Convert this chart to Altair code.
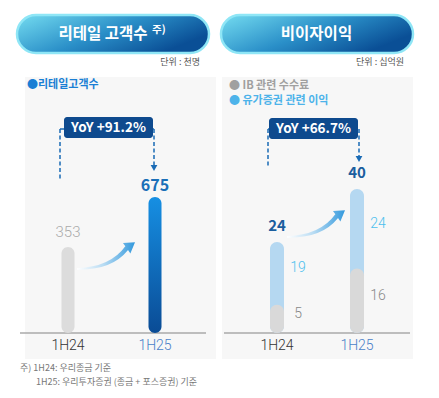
import altair as alt
import pandas as pd

# ---- data ----
periods = ["1H24", "1H25"]
retail_customers = [353, 675]          # 천명
ib_fees = [5, 16]                      # 십억원
securities_income = [19, 24]           # 십억원
noninterest_total = [24, 40]           # 십억원
yoy_retail = "YoY +91.2%"
yoy_nonint = "YoY +66.7%"

FONT = "Noto Sans CJK KR"
NUM = "Roboto"

df_left = pd.DataFrame({"period": periods, "value": retail_customers})
df_right = pd.DataFrame({"period": periods, "ib": ib_fees,
                         "sec": securities_income, "total": noninterest_total})
one = alt.Data(values=[{"k": 1}])

pill_grad = alt.Gradient(gradient="linear",
                         stops=[alt.GradientStop(color="#74dcf0", offset=0),
                                alt.GradientStop(color="#2a8fc8", offset=0.55),
                                alt.GradientStop(color="#0a4f96", offset=1)],
                         x1=0, y1=0, x2=1, y2=0.5)
arrow_grad = alt.Gradient(gradient="linear",
                          stops=[alt.GradientStop(color="#ffffff", offset=0),
                                 alt.GradientStop(color="#b9dcf3", offset=0.45),
                                 alt.GradientStop(color="#3399dd", offset=1)],
                          x1=0, y1=0, x2=1, y2=0)
bar_grad = alt.Gradient(gradient="linear",
                        stops=[alt.GradientStop(color="#168fe3", offset=0),
                               alt.GradientStop(color="#0a4b95", offset=1)],
                        x1=0, y1=0, x2=0, y2=1)

ARROW = ("M -1 0.47 Q 0.2 0.5 0.759 -0.204 L 0.84 -0.09 L 1 -0.47 "
         "L 0.585 -0.45 L 0.667 -0.336 Q 0.15 0.38 -1 0.42 Z")

DASH = "#1a6bb5"


def background(bg_x, pill_x, title, title_x, unit, unit_x, box, dash_l, dash_l_end,
               dash_r, dash_r_end, base_x):
    b = alt.Chart(one)
    dash = dict(strokeDash=[4, 2.5], strokeWidth=1.5, color=DASH)
    return [
        b.mark_rect(color="#f7f7f7").encode(
            x=alt.value(bg_x[0]), x2=alt.value(bg_x[1]), y=alt.value(69), y2=alt.value(351)),
        b.mark_rect(cornerRadius=19, fill=pill_grad, stroke="#8fe6f6", strokeWidth=2.5).encode(
            x=alt.value(pill_x[0]), x2=alt.value(pill_x[1]), y=alt.value(7), y2=alt.value(45)),
        b.mark_text(text=title, font=FONT, fontSize=15.5, fontWeight="bold",
                    color="white", align="center", baseline="middle").encode(
            x=alt.value(title_x), y=alt.value(26)),
        b.mark_text(text=unit, font=FONT, fontSize=9, color="#555555",
                    align="right", baseline="middle").encode(
            x=alt.value(unit_x), y=alt.value(54)),
        b.mark_rule(**dash).encode(x=alt.value(dash_l), x2=alt.value(dash_r), y=alt.value(121)),
        b.mark_rule(**dash).encode(x=alt.value(dash_l), y=alt.value(121), y2=alt.value(dash_l_end)),
        b.mark_rule(**dash).encode(x=alt.value(dash_r), y=alt.value(121), y2=alt.value(dash_r_end)),
        b.mark_point(shape="triangle-down", filled=True, size=45, opacity=1, color=DASH).encode(
            x=alt.value(dash_r), y=alt.value(dash_r_end + 3)),
        b.mark_rect(color="#0e4a8e", cornerRadius=3).encode(
            x=alt.value(box[0]), x2=alt.value(box[1]), y=alt.value(box[2]), y2=alt.value(box[3])),
        b.mark_rule(color="#aaaaaa", strokeWidth=1.5).encode(
            x=alt.value(base_x[0]), x2=alt.value(base_x[1]), y=alt.value(325)),
    ]


def curved_arrow(cy):
    return alt.Chart(one).mark_point(shape=ARROW, size=3364, filled=True, opacity=1,
                                     fill=arrow_grad, strokeWidth=0).encode(
        x=alt.value(98), y=alt.value(cy))


# ---------------- left panel ----------------
left_bg = background((17, 208), (9, 201), "리테일 고객수", 95, "단위 : 천명", 192,
                     (56, 145, 109, 130), 52, 172, 146, 157, (12, 198))
b1 = alt.Chart(one)
left_extra = [
    b1.mark_text(text="주)", font=FONT, fontSize=10.5, fontWeight="bold", color="white",
                 align="left", baseline="middle").encode(x=alt.value(144), y=alt.value(22)),
    b1.mark_text(text="●리테일고객수", font=FONT, fontSize=11, fontWeight="bold",
                 color="#1a7fd4", align="left", baseline="middle").encode(
        x=alt.value(19), y=alt.value(77)),
    b1.mark_text(text=yoy_retail, font=FONT, fontSize=13.5, fontWeight="bold", color="white",
                 align="center", baseline="middle").encode(x=alt.value(100.5), y=alt.value(119.5)),
    b1.mark_text(text="주) 1H24: 우리종금 기준", font=FONT, fontSize=9, color="#777777",
                 align="left", baseline="middle").encode(x=alt.value(12), y=alt.value(360)),
    b1.mark_text(text="1H25: 우리투자증권 (종금 + 포스증권) 기준", font=FONT, fontSize=9,
                 color="#777777", align="left", baseline="middle").encode(
        x=alt.value(28), y=alt.value(374)),
]

xl = alt.X("period:N", axis=None,
           scale=alt.Scale(type="point", domain=periods, range=[60, 147], padding=0))
yl = alt.Y("value:Q", axis=None, stack=None,
           scale=alt.Scale(domain=[-200, 800], range=[325, 169.7], nice=False, zero=False))
bl = alt.Chart(df_left)
left_bars = [
    bl.transform_filter(alt.datum.period == "1H24").mark_bar(
        size=13, cornerRadius=6.5, color="#dcdcdc").encode(x=xl, y=yl, y2=alt.datum(-200)),
    bl.transform_filter(alt.datum.period == "1H25").mark_bar(
        size=13, cornerRadius=6.5, color=bar_grad).encode(x=xl, y=yl, y2=alt.datum(-200)),
]
left_labels = [
    bl.transform_filter(alt.datum.period == "1H24").mark_text(
        font=NUM, fontSize=15, fontWeight=300, color="#aaaaaa", dy=-15,
        baseline="middle").encode(x=xl, y=yl, text="value:Q"),
    bl.transform_filter(alt.datum.period == "1H25").mark_text(
        font=FONT, fontSize=16, fontWeight="bold", color="#1a6fb8", dy=-11,
        baseline="middle").encode(x=xl, y=yl, text="value:Q"),
    bl.mark_text(font=NUM, fontSize=14, fontWeight=300, baseline="middle").encode(
        x=xl, y=alt.value(338), text="period:N",
        color=alt.condition(alt.datum.period == "1H25", alt.value("#4a7fc8"),
                            alt.value("#333333"))),
]
left = alt.layer(*left_bg, *left_bars, curved_arrow(248), *left_extra,
                 *left_labels).properties(width=210, height=382)

# ---------------- right panel ----------------
right_bg = background((4, 195), (3, 195), "비이자이익", 98.5, "단위 : 십억원", 186,
                      (51, 140, 110, 131), 50, 159, 141, 148, (6, 192))
b2 = alt.Chart(one)
right_extra = [
    b2.mark_text(text="● IB 관련 수수료", font=FONT, fontSize=11, fontWeight="bold",
                 color="#a0a0a0", align="left", baseline="middle").encode(
        x=alt.value(11), y=alt.value(78)),
    b2.mark_text(text="● 유가증권 관련 이익", font=FONT, fontSize=11, fontWeight="bold",
                 color="#4db3ea", align="left", baseline="middle").encode(
        x=alt.value(11), y=alt.value(93)),
    b2.mark_text(text=yoy_nonint, font=FONT, fontSize=13.5, fontWeight="bold", color="white",
                 align="center", baseline="middle").encode(x=alt.value(95.5), y=alt.value(120.5)),
]

xr = alt.X("period:N", axis=None,
           scale=alt.Scale(type="point", domain=periods, range=[59, 139], padding=0))
ysc = alt.Scale(domain=[-3.5, 60], range=[325, 114.7], nice=False, zero=False)
br = alt.Chart(df_right)
right_bars = [
    br.mark_bar(size=14, cornerRadius=7, color="#b5d8f1").encode(
        x=xr, y=alt.Y("total:Q", axis=None, scale=ysc, stack=None), y2=alt.datum(-3.5)),
    br.mark_bar(size=14, cornerRadius=7, color="#d9d9d9").encode(
        x=xr, y=alt.Y("ib:Q", axis=None, scale=ysc, stack=None), y2=alt.datum(-3.5)),
]
right_labels = [
    br.mark_text(font=FONT, fontSize=15, fontWeight="bold", color="#1b5e9e", dy=-16,
                 baseline="middle").encode(
        x=xr, y=alt.Y("total:Q", axis=None, scale=ysc), text="total:Q"),
    br.transform_calculate(mid="(datum.ib + datum.total) / 2").mark_text(
        font=NUM, fontSize=14, fontWeight=300, color="#4cc0ee", dx=21, dy=-5,
        baseline="middle").encode(
        x=xr, y=alt.Y("mid:Q", axis=None, scale=ysc), text="sec:Q"),
    br.transform_calculate(mid2="(datum.ib - 3.5) / 2").mark_text(
        font=NUM, fontSize=14, fontWeight=300, color="#888888", dx=21, dy=-5,
        baseline="middle").encode(
        x=xr, y=alt.Y("mid2:Q", axis=None, scale=ysc), text="ib:Q"),
    br.mark_text(font=NUM, fontSize=14, fontWeight=300, baseline="middle").encode(
        x=xr, y=alt.value(338), text="period:N",
        color=alt.condition(alt.datum.period == "1H25", alt.value("#4a7fc8"),
                            alt.value("#333333"))),
]
right = alt.layer(*right_bg, *right_bars, curved_arrow(216), *right_extra,
                  *right_labels).properties(width=213, height=382)

chart = alt.hconcat(left, right, spacing=0).properties(
    padding=0, background="white").configure_view(strokeWidth=0, stroke=None)

chart.save("out.html", embed_options={"renderer": "svg", "actions": False})
